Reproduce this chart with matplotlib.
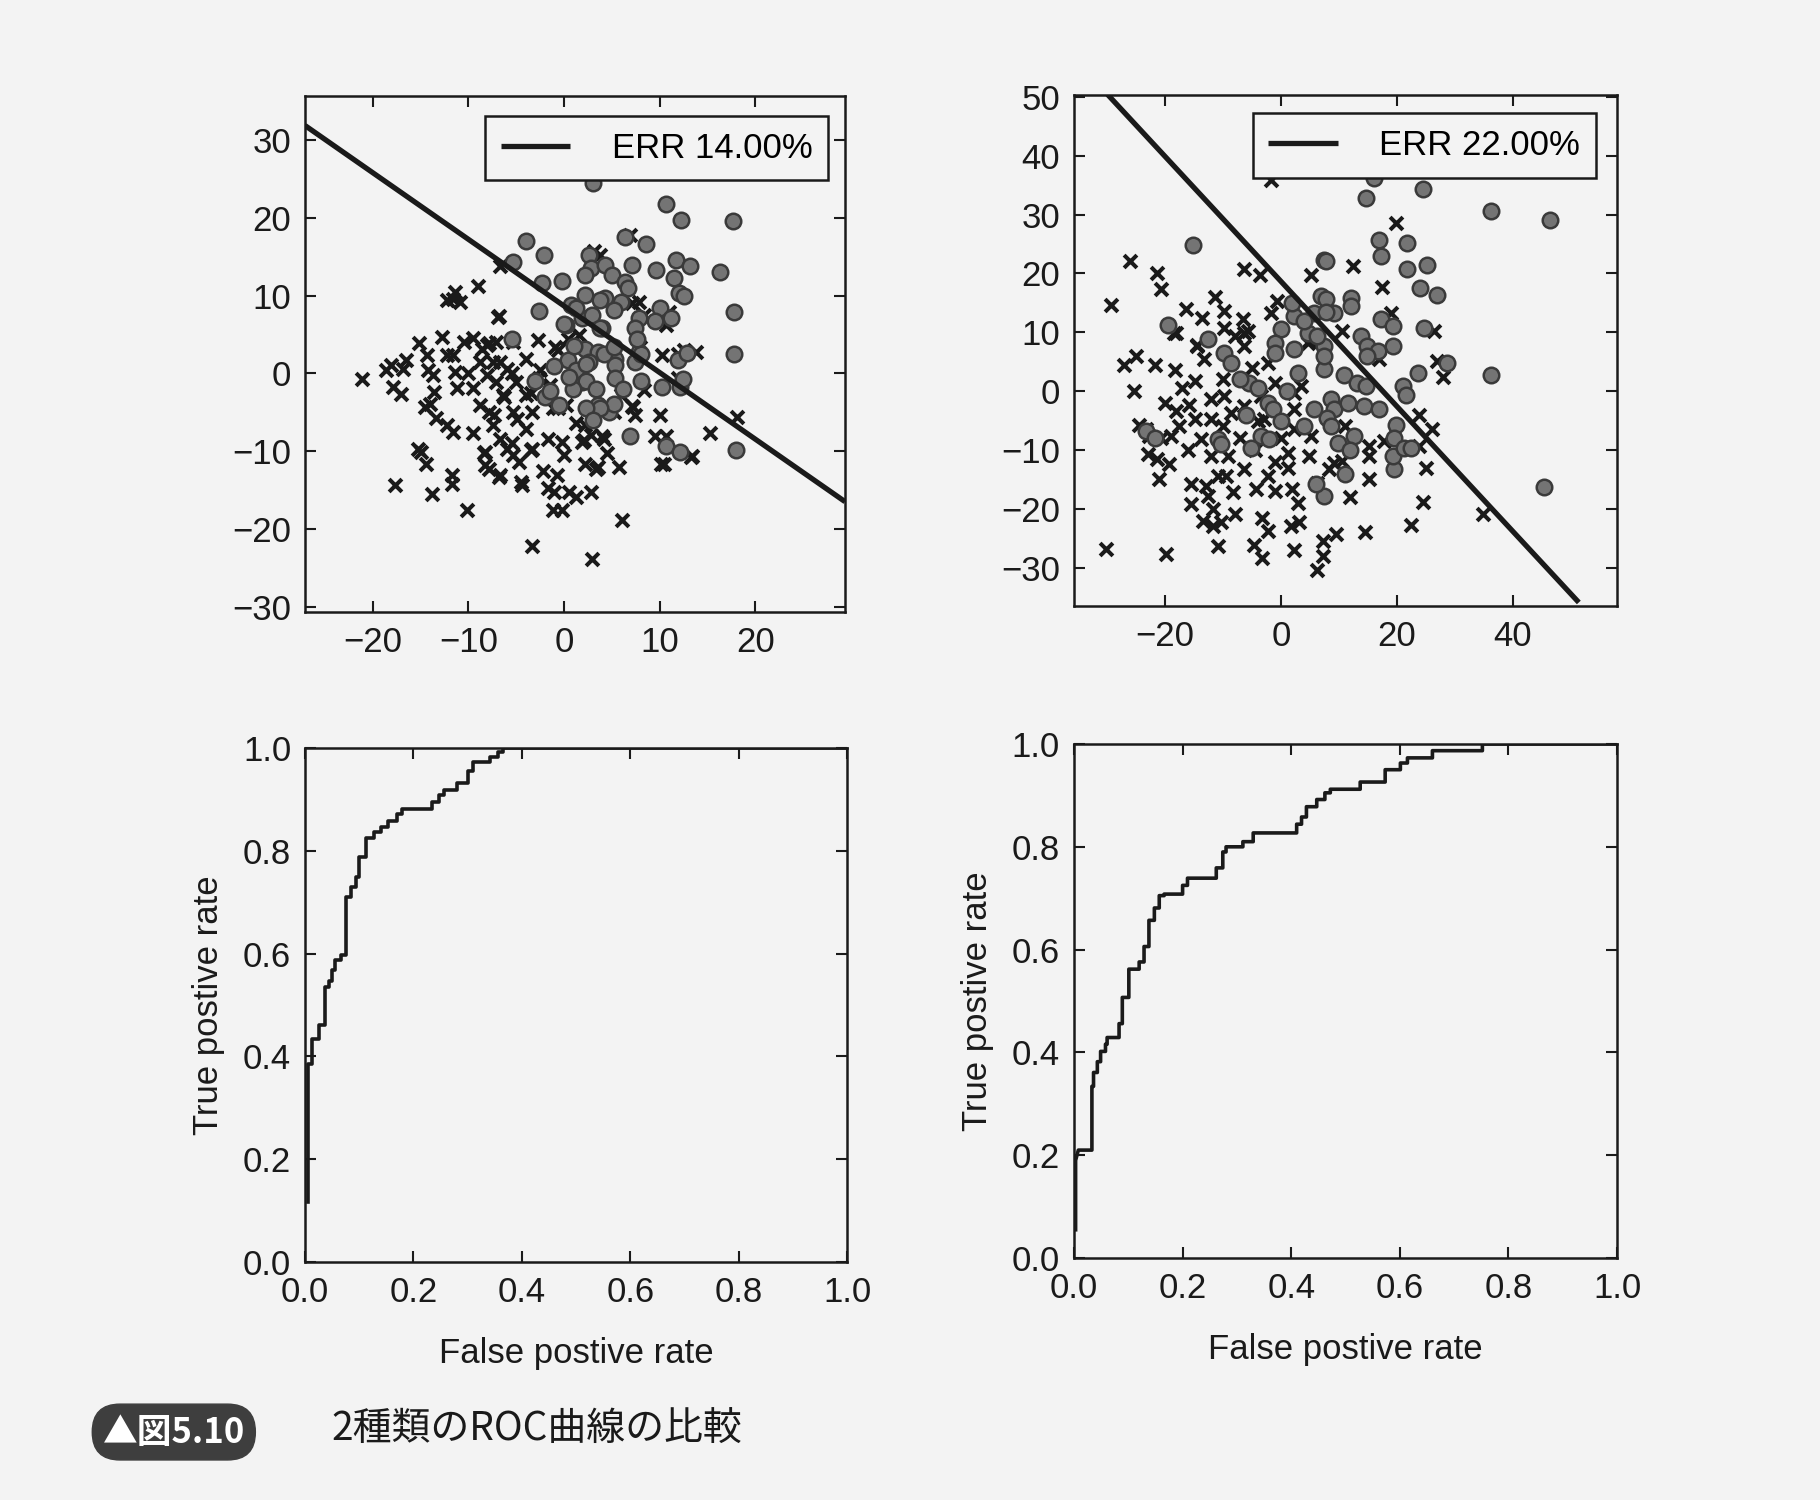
import numpy as np
import matplotlib
matplotlib.use("Agg")
import matplotlib.pyplot as plt

plt.rcParams['font.family'] = ['Liberation Sans', 'Noto Sans CJK JP', 'DejaVu Sans']

#------------ DATA ---------------------------------------------
# top-left scatter (class 0 = crosses, class 1 = circles)
tl_cross = [
    (-6.7, 13.8), (-9.0, 11.2), (-11.4, 10.5), (-12.2, 9.5), (-10.9, 9.2), (-6.9, 7.3), (-2.7, 4.3),
    (-0.9, 3.4), (-12.8, 4.7), (-15.2, 3.9), (-14.3, 2.4), (-12.2, 2.4), (-10.5, 4.1), (-9.5, 4.5),
    (-8.1, 3.7), (-7.1, 4.1), (-18.1, 1.1), (-16.5, 1.7), (-8.8, 1.5), (-6.7, 1.5), (-4.0, 1.9),
    (1.6, 4.9), (-21.1, -0.7), (-18.6, 0.4), (-16.9, 0.6), (-17.9, -1.8), (-17.1, -2.6), (-13.7, -0.2),
    (-13.6, -2.4), (-14.5, -4.3), (-13.4, -5.8), (-12.2, -6.7), (-11.6, -7.5), (-15.3, -9.7),
    (-14.4, -11.6), (-17.7, -14.3), (-13.8, -15.5), (-11.7, -13.1), (-11.7, -14.2), (-10.2, -17.6),
    (-3.4, -22.2), (2.9, -23.9), (-11.6, 2.4), (-11.4, 0.2), (-11.2, -1.9), (-10.0, 0.0), (-9.5, -1.9),
    (-8.6, 3.2), (-7.4, 1.5), (-8.1, -0.2), (-7.1, -1.1), (-8.8, -4.1), (-7.8, -4.9), (-9.5, -7.7),
    (-6.7, -8.4), (-6.0, -9.7), (-8.4, -10.3), (-5.3, -10.5), (-4.7, -11.4), (-7.9, -12.3),
    (-6.7, -13.1), (-4.5, -14.0), (-3.3, -9.7), (-2.2, -12.5), (-1.7, -8.4), (-0.7, -13.1),
    (-1.7, -14.8), (-1.2, -17.6), (-0.2, -17.6), (0.0, -10.5), (-0.2, -8.8), (0.5, -15.3), (1.2, -15.9),
    (2.8, -15.3), (2.2, -11.6), (3.3, -12.3), (1.9, -8.8), (-5.3, 4.1), (-6.0, 0.6), (-5.0, -1.1),
    (-4.0, -2.8), (-3.3, -4.9), (-5.3, -4.9), (-6.4, -2.8), (-2.6, -0.6), (-1.2, -4.5), (0.2, -4.1),
    (-4.0, -7.1), (-7.4, -6.7), (18.1, -5.6), (15.3, -7.7), (13.8, 2.8), (12.6, 3.0), (10.3, 2.4),
    (10.0, -5.3), (9.5, -8.0), (10.7, -8.0), (13.3, -10.8), (10.1, -11.6), (7.2, -4.3), (7.4, -5.4),
    (4.5, -10.3), (5.7, -12.0), (3.6, -12.0), (6.1, -18.8), (11.9, -0.6), (8.4, -2.1), (6.0, -2.8),
    (4.0, -8.0), (2.1, -8.6), (7.9, 3.4), (2.2, -6.7), (6.9, 17.8), (3.1, 15.8), (7.8, 9.2),
    (10.7, 6.2), (8.4, 7.5), (-14.2, 0.5), (-14.0, -3.9), (-8.3, -10.1), (-8.3, -11.8), (-6.8, -13.3),
    (-5.4, -8.9), (-4.4, -14.3), (-3.5, -9.9), (-1.1, -15.3), (4.2, -8.4), (5.2, -4.9), (7.1, -4.2),
    (-15.0, -10.1), (-6.8, 7.4), (-11.6, 9.6), (0.4, 4.4), (-0.6, 3.0), (-7.8, 3.9), (-5.4, 0.0),
    (-2.5, 0.5), (-1.5, -1.5), (-3.5, -2.5), (-6.3, -3.0), (-7.3, -5.4), (-4.9, -5.9), (-0.6, -4.4),
    (1.3, -6.4), (2.8, -7.9), (10.5, -11.6), (13.4, -10.6), (11.9, 2.5), (10.0, 6.9), (11.0, 7.9),
    (7.1, 9.1), (3.8, 15.3),
]
tl_circle = [
    (3.0, 24.5), (10.7, 21.8), (12.2, 19.7), (17.7, 19.6), (-4.0, 17.0), (-2.1, 15.3), (6.4, 17.5),
    (8.6, 16.6), (-5.3, 14.4), (-2.3, 11.6), (-0.2, 11.9), (-2.6, 8.0), (2.6, 15.3), (0.2, 6.2),
    (0.7, 8.8), (1.9, 7.1), (16.3, 13.1), (17.8, 7.9), (17.8, 2.5), (9.6, 13.3), (11.7, 14.6),
    (13.2, 13.8), (11.5, 12.3), (12.0, 10.3), (12.6, 9.9), (10.0, 8.4), (11.2, 7.1), (7.1, 14.0),
    (2.8, 13.6), (4.3, 14.0), (5.0, 12.7), (6.4, 11.8), (6.7, 11.0), (2.2, 12.7), (2.2, 10.1),
    (4.3, 9.7), (6.0, 9.2), (2.9, 7.5), (4.0, 5.8), (7.8, 7.1), (7.4, 5.8), (9.5, 6.7), (2.2, 3.2),
    (3.6, 2.8), (5.3, 1.9), (7.8, 2.8), (18.0, -9.9), (6.9, -8.0), (10.7, -9.3), (12.1, -10.1),
    (10.2, -1.7), (12.1, -1.7), (11.9, 1.7), (12.9, 2.6), (2.6, 1.5), (5.3, 1.1), (5.3, -0.6),
    (4.7, -4.9), (1.9, -1.1), (7.4, 1.5), (3.6, -4.1), (0.4, 1.7), (1.3, 0.5), (2.3, 1.2), (4.2, 2.5),
    (5.2, 3.4), (2.3, -1.0), (0.9, -2.0), (3.3, -2.0), (6.2, -2.0), (8.1, 2.5), (7.6, 4.4), (3.8, 5.9),
    (1.3, 8.4), (5.2, 8.1), (3.8, 9.4), (8.1, -1.0), (12.4, -0.7), (-2.0, -3.0), (-1.5, -2.2),
    (-3.0, -1.0), (5.2, -3.9), (3.8, -4.4), (2.3, -4.4), (-5.4, 4.4), (0.0, 6.4), (1.0, 3.5),
    (-1.0, 1.0), (0.5, -0.5), (-0.5, -4.0), (3.0, -6.0),
]
tl_boundary_x = [-27.1, 29.4]
tl_boundary_y = [31.9, -16.5]
tl_err = "ERR 14.00%"

# top-right scatter
tr_cross = [
    (-1.7, 35.9), (-26.0, 22.1), (-21.3, 20.1), (-20.7, 17.4), (-29.3, 14.6), (-6.3, 20.7), (-3.6, 19.8),
    (5.2, 19.8), (-11.3, 16.0), (-9.9, 13.6), (-16.4, 13.9), (-13.6, 12.5), (-0.6, 15.3), (-1.7, 13.3),
    (-6.6, 12.2), (-9.8, 10.8), (-8.0, 9.3), (-5.7, 10.2), (-18.1, 9.9), (-6.3, 7.6), (-14.4, 7.6),
    (-25.0, 5.9), (4.9, 8.5), (19.8, 28.5), (12.5, 21.2), (17.4, 17.7), (19.0, 13.3), (26.4, 10.2),
    (10.6, 10.2), (34.8, -20.9), (24.6, -18.8), (22.5, -22.8), (14.5, -24.0), (9.5, -24.3),
    (15.2, -15.0), (25.0, -13.0), (26.1, -6.5), (23.8, -4.0), (23.8, -9.3), (27.0, 5.1), (28.0, 2.4),
    (16.9, 5.4), (10.6, -11.9), (8.3, -13.3), (15.2, -9.3), (15.2, -11.0), (17.8, -8.5), (7.2, -25.5),
    (7.2, -28.0), (6.3, -30.4), (-30.1, -26.9), (-19.8, -27.6), (-10.8, -26.3), (-4.7, -26.2),
    (-3.2, -28.3), (2.3, -27.0), (-27.0, 4.5), (-21.8, 4.4), (-18.3, 3.6), (-25.3, 0.0), (-14.9, 1.7),
    (-24.4, -5.7), (-23.3, -6.5), (-22.7, -7.6), (-20.7, -7.9), (-19.0, -7.6), (-23.0, -10.7),
    (-21.3, -11.6), (-19.3, -12.4), (-21.1, -15.0), (-18.1, -3.4), (-15.8, -2.3), (-17.5, -5.9),
    (-14.9, -4.8), (-13.8, -8.2), (-12.1, -1.4), (-12.1, -4.8), (-15.5, -15.8), (-15.5, -19.2),
    (-12.9, -16.1), (-12.6, -17.8), (-11.8, -20.1), (-13.5, -22.1), (-11.8, -22.9), (-10.3, -22.3),
    (-8.0, -20.9), (-3.2, -21.5), (-2.3, -23.8), (1.7, -22.9), (3.2, -22.3), (-12.1, -11.0),
    (-10.9, -14.4), (-9.5, -14.4), (-8.3, -17.2), (-6.3, -13.3), (-4.3, -16.7), (-2.3, -14.4),
    (-1.1, -17.0), (1.2, -10.5), (1.2, -13.0), (2.0, -16.7), (2.3, -6.5), (5.2, -7.6), (4.9, -11.0),
    (6.3, -15.6), (-9.2, -11.0), (-14.4, 7.9), (-13.2, 5.4), (-6.3, 9.9), (-18.4, 9.9), (-2.3, 4.8),
    (-1.1, 1.4), (-3.4, -0.8), (-6.3, -2.5), (-8.6, -3.7), (-9.8, -0.8), (-2.9, -4.8), (2.3, -0.3),
    (2.3, -3.1), (3.4, 0.8), (4.6, 8.2), (9.2, -12.2), (-7.0, -8.0), (-4.5, -10.0), (-10.0, -6.0),
    (-16.0, -10.0), (-4.0, -5.0), (0.0, -8.0), (-1.0, -12.0), (-5.0, 4.0), (-10.0, 2.0), (-17.0, 0.5),
    (-20.0, -2.0), (3.0, -19.0), (12.0, -18.0), (11.0, -6.0),
]
tr_circle = [
    (-15.2, 24.8), (7.5, 22.2), (-19.5, 11.3), (-12.6, 8.8), (6.9, 16.1), (5.7, 13.3), (2.3, 12.7),
    (4.6, 9.9), (9.2, 13.3), (0.0, 10.5), (-1.1, 8.2), (2.3, 7.1), (7.5, 7.6), (16.1, 36.2),
    (14.7, 32.8), (24.6, 34.4), (36.3, 30.6), (46.4, 29.0), (16.9, 25.6), (17.2, 22.9), (21.7, 25.1),
    (21.7, 20.7), (25.2, 21.5), (24.0, 17.6), (27.0, 16.4), (7.8, 22.1), (12.1, 15.9), (12.1, 14.4),
    (7.8, 15.6), (7.8, 13.4), (17.2, 12.2), (19.3, 11.0), (19.3, 7.6), (24.7, 10.8), (13.8, 9.3),
    (14.9, 7.6), (16.7, 6.8), (36.3, 2.8), (45.4, -16.3), (28.7, 4.8), (23.6, 3.1), (21.0, 0.8),
    (21.6, -0.6), (19.8, -5.7), (19.5, -7.9), (19.5, -13.3), (19.3, -11.0), (21.3, -9.6), (22.4, -9.6),
    (14.9, 5.9), (10.9, 2.8), (13.2, 1.4), (14.7, 0.8), (8.6, -1.4), (9.2, -3.1), (11.5, -2.0),
    (14.4, -2.5), (16.9, -3.1), (8.0, -4.5), (8.6, -5.9), (7.5, -17.8), (7.5, 3.7), (9.8, -8.8),
    (12.6, -7.6), (-23.3, -6.8), (-21.8, -7.9), (-9.8, 6.5), (-8.6, 4.8), (-10.9, -8.2), (-10.3, -9.0),
    (-5.5, 1.4), (-4.0, 0.6), (-2.3, -2.0), (-1.4, -3.1), (-3.4, -7.6), (-2.0, -8.2), (-5.2, -9.6),
    (-1.1, 6.5), (6.3, 9.3), (7.5, 5.9), (5.7, -3.1), (6.0, -15.8), (3.0, 3.0), (1.0, 0.0),
    (4.0, -6.0), (0.0, -5.0), (-6.0, -4.0), (12.0, -10.0), (11.0, -14.0), (2.0, 15.0), (4.0, 12.0),
    (-7.0, 2.0),
]
tr_boundary_x = [-29.9, 51.4]
tr_boundary_y = [50.4, -35.9]
tr_err = "ERR 22.00%"

# ROC curves (step vertices)
roc_left_fpr = [0.005, 0.005, 0.0125, 0.0125, 0.025, 0.025, 0.0375, 0.0375, 0.044, 0.044, 0.05, 0.05,
                0.056, 0.056, 0.066, 0.066, 0.075, 0.075, 0.084, 0.084, 0.094, 0.094, 0.1, 0.1,
                0.1125, 0.1125, 0.128, 0.128, 0.141, 0.141, 0.153, 0.153, 0.169, 0.169, 0.178, 0.178,
                0.234, 0.234, 0.247, 0.247, 0.256, 0.256, 0.281, 0.281, 0.3, 0.3, 0.309, 0.309,
                0.341, 0.341, 0.356, 0.356, 0.366, 0.366, 1.0]
roc_left_tpr = [0.117, 0.386, 0.386, 0.433, 0.433, 0.46, 0.46, 0.534, 0.534, 0.547, 0.547, 0.568,
                0.568, 0.588, 0.588, 0.598, 0.598, 0.709, 0.709, 0.729, 0.729, 0.749, 0.749, 0.787,
                0.787, 0.824, 0.824, 0.837, 0.837, 0.847, 0.847, 0.857, 0.857, 0.871, 0.871, 0.881,
                0.881, 0.894, 0.894, 0.908, 0.908, 0.918, 0.918, 0.931, 0.931, 0.955, 0.955, 0.972,
                0.972, 0.982, 0.982, 0.992, 0.992, 1.0, 1.0]
roc_right_fpr = [0.003, 0.003, 0.008, 0.033, 0.033, 0.036, 0.036, 0.043, 0.043, 0.049, 0.049, 0.058,
                 0.058, 0.061, 0.061, 0.083, 0.083, 0.089, 0.089, 0.101, 0.101, 0.12, 0.12, 0.129,
                 0.129, 0.138, 0.138, 0.148, 0.148, 0.157, 0.157, 0.166, 0.166, 0.2, 0.2, 0.209,
                 0.209, 0.262, 0.262, 0.274, 0.274, 0.28, 0.28, 0.311, 0.311, 0.33, 0.33, 0.41,
                 0.41, 0.419, 0.419, 0.428, 0.428, 0.447, 0.447, 0.462, 0.462, 0.472, 0.472, 0.527,
                 0.527, 0.573, 0.573, 0.601, 0.601, 0.614, 0.614, 0.66, 0.66, 0.752, 0.752, 1.0]
roc_right_tpr = [0.055, 0.19, 0.21, 0.21, 0.334, 0.334, 0.361, 0.361, 0.382, 0.382, 0.402, 0.402,
                 0.416, 0.416, 0.429, 0.429, 0.456, 0.456, 0.507, 0.507, 0.562, 0.562, 0.576, 0.576,
                 0.606, 0.606, 0.657, 0.657, 0.681, 0.681, 0.705, 0.705, 0.708, 0.708, 0.725, 0.725,
                 0.739, 0.739, 0.759, 0.759, 0.79, 0.79, 0.8, 0.8, 0.81, 0.81, 0.827, 0.827,
                 0.844, 0.844, 0.858, 0.858, 0.878, 0.878, 0.892, 0.892, 0.905, 0.905, 0.912, 0.912,
                 0.926, 0.926, 0.95, 0.95, 0.963, 0.963, 0.973, 0.973, 0.987, 0.987, 1.0, 1.0]

caption_tag = "▲図5.10"
caption_text = "2種類のROC曲線の比較"

#------------ STYLE ------------------------------------------
bg = "#f3f3f3"
ink = "#1a1a1a"
fs = 25


def style_axes(ax):
    ax.set_facecolor(bg)
    for s in ax.spines.values():
        s.set_linewidth(1.8)
        s.set_color(ink)
    ax.tick_params(direction="in", top=True, right=True, length=8, width=1.5,
                   labelsize=fs, colors=ink, pad=10)


def scatter_panel(ax, cross, circle, bx, by, xlim, ylim, xticks, yticks):
    cx = [p[0] for p in cross]
    cy = [p[1] for p in cross]
    ox = [p[0] for p in circle]
    oy = [p[1] for p in circle]
    ax.scatter(cx, cy, marker="x", s=85, color=ink, linewidths=2.9, zorder=2)
    ax.scatter(ox, oy, marker="o", s=125, facecolor="#747474", edgecolor="#3a3a3a",
               linewidths=1.8, zorder=3)
    line, = ax.plot(bx, by, color=ink, lw=3.8, zorder=4, solid_capstyle="butt")
    ax.set_xlim(*xlim)
    ax.set_ylim(*ylim)
    ax.set_xticks(xticks)
    ax.set_yticks(yticks)
    return line


fig = plt.figure(figsize=(18.2, 15), dpi=100, facecolor=bg)

ax1 = fig.add_axes([0.1676, 0.592, 0.2967, 0.344])
ax2 = fig.add_axes([0.5901, 0.596, 0.2984, 0.341])
ax3 = fig.add_axes([0.1676, 0.1587, 0.2978, 0.3427])
ax4 = fig.add_axes([0.5901, 0.1613, 0.2984, 0.3427])

for ax in (ax1, ax2, ax3, ax4):
    style_axes(ax)

l1 = scatter_panel(ax1, tl_cross, tl_circle, tl_boundary_x, tl_boundary_y,
                   (-27.1, 29.4), (-30.7, 35.7), [-20, -10, 0, 10, 20], range(-30, 31, 10))
l2 = scatter_panel(ax2, tr_cross, tr_circle, tr_boundary_x, tr_boundary_y,
                   (-35.7, 58.0), (-36.5, 50.4), [-20, 0, 20, 40], range(-30, 51, 10))

# legends: one line handle, square black frame
for ax, line, err, anchor in ((ax1, l1, tl_err, (0.969, 0.961)), (ax2, l2, tr_err, (0.961, 0.963))):
    leg = ax.legend([line], [err], loc="upper right", bbox_to_anchor=anchor, borderaxespad=0,
                    fontsize=fs, fancybox=False, framealpha=1, facecolor=bg, edgecolor=ink,
                    handlelength=2.0, handletextpad=1.2, borderpad=0.45)
    leg.get_frame().set_linewidth(1.8)
    leg.set_zorder(5)

for ax, fpr, tpr in ((ax3, roc_left_fpr, roc_left_tpr), (ax4, roc_right_fpr, roc_right_tpr)):
    ax.plot(fpr, tpr, color=ink, lw=2.6)
    ax.set_xlim(0, 1)
    ax.set_ylim(0, 1)
    ax.set_xticks(np.arange(0, 1.01, 0.2))
    ax.set_yticks(np.arange(0, 1.01, 0.2))
    ax.set_xlabel("False postive rate", fontsize=fs, color=ink, labelpad=20)
    ax.set_ylabel("True postive rate", fontsize=fs, color=ink, labelpad=13)

fig.text(0.0955, 0.0453, caption_tag, fontsize=25, fontweight="bold", color="white",
         ha="center", va="center", family=["Noto Sans CJK JP", "DejaVu Sans"],
         bbox=dict(boxstyle="round,pad=0.3,rounding_size=0.8", fc="#3e3e3e", ec="#3e3e3e"))
fig.text(0.182, 0.0467, caption_text, fontsize=28, color=ink, ha="left", va="center",
         family=["Noto Sans CJK JP", "DejaVu Sans"])

fig.savefig("out.png", dpi=100, facecolor=bg)
